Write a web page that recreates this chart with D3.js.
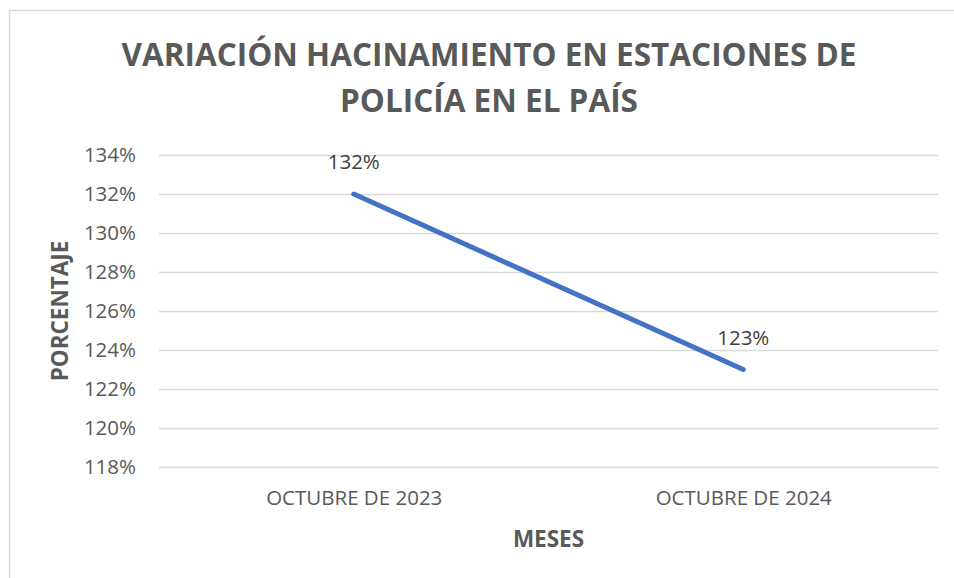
<!DOCTYPE html>
<html>
<head>
<meta charset="utf-8">
<script src="https://cdn.jsdelivr.net/npm/d3@7"></script>
<style>
  body { margin: 0; background: #fff; }
  text { font-family: "Open Sans", sans-serif; }
</style>
</head>
<body>
<div id="chart"></div>
<script>
var svgWidth = 954;
var svgHeight = 578;

// data
var months = ["OCTUBRE DE 2023", "OCTUBRE DE 2024"];
var values = [1.32, 1.23];
var yTicks = [1.18, 1.20, 1.22, 1.24, 1.26, 1.28, 1.30, 1.32, 1.34];
var titleLines = ["VARIACIÓN HACINAMIENTO EN ESTACIONES DE", "POLICÍA EN EL PAÍS"];

var margin = { top: 155, right: 16, bottom: 111, left: 159 };
var plotWidth = svgWidth - margin.left - margin.right;
var plotHeight = svgHeight - margin.top - margin.bottom;

var svg = d3.select("#chart")
    .append("svg")
    .attr("width", svgWidth)
    .attr("height", svgHeight);

// chart frame (runs off the right/bottom edge like the source)
svg.append("rect")
    .attr("x", 9.5)
    .attr("y", 10.5)
    .attr("width", 980)
    .attr("height", 600)
    .attr("fill", "none")
    .attr("stroke", "#d9d9d9")
    .attr("stroke-width", 1.5);

// title
svg.append("text")
    .attr("text-anchor", "middle")
    .attr("fill", "#595959")
    .style("font-weight", "bold")
    .style("font-size", "31.5px")
    .selectAll("tspan")
    .data(titleLines)
    .enter()
    .append("tspan")
    .attr("x", 489)
    .attr("y", (d, i) => 66 + i * 46)
    .text(d => d);

var plot = svg.append("g")
    .attr("transform", `translate(${margin.left},${margin.top})`);

var scX = d3.scalePoint()
    .domain(months)
    .range([0, plotWidth])
    .padding(0.5);

var scY = d3.scaleLinear()
    .domain([1.18, 1.34])
    .range([plotHeight, 0]);

// gridlines
plot.append("g")
    .call(d3.axisLeft(scY).tickValues(yTicks).tickSize(-plotWidth).tickFormat(""))
    .call(g => g.select(".domain").remove())
    .call(g => g.selectAll("line").attr("stroke", "#d9d9d9").attr("stroke-width", 1.5));

// y axis labels
plot.append("g")
    .call(d3.axisLeft(scY).tickValues(yTicks).tickSize(0).tickPadding(23).tickFormat(d3.format(".0%")))
    .call(g => g.select(".domain").remove())
    .call(g => g.selectAll("text")
        .attr("fill", "#595959")
        .style("font-size", "20.5px")
        .style("font-family", "'Open Sans', sans-serif"));

// x axis labels
plot.append("g")
    .attr("transform", `translate(0,${plotHeight})`)
    .call(d3.axisBottom(scX).tickSize(0).tickPadding(23))
    .call(g => g.select(".domain").remove())
    .call(g => g.selectAll("text")
        .attr("fill", "#595959")
        .style("font-size", "20.5px")
        .style("font-family", "'Open Sans', sans-serif"));

// line
var line = d3.line()
    .x((d, i) => scX(months[i]))
    .y(d => scY(d));

plot.append("path")
    .datum(values)
    .attr("d", line)
    .attr("fill", "none")
    .attr("stroke", "#4472c4")
    .attr("stroke-width", 5)
    .attr("stroke-linecap", "round");

// data labels
plot.selectAll(".lbl")
    .data(values)
    .enter()
    .append("text")
    .attr("class", "lbl")
    .attr("x", (d, i) => scX(months[i]))
    .attr("y", d => scY(d) - 25)
    .attr("text-anchor", "middle")
    .attr("fill", "#404040")
    .style("font-size", "20.5px")
    .text(d => d3.format(".0%")(d));

// axis titles
svg.append("text")
    .attr("x", margin.left + plotWidth / 2)
    .attr("y", 547)
    .attr("text-anchor", "middle")
    .attr("fill", "#595959")
    .style("font-weight", "bold")
    .style("font-size", "22.5px")
    .text("MESES");

svg.append("text")
    .attr("transform", "translate(68,311) rotate(-90)")
    .attr("text-anchor", "middle")
    .attr("fill", "#595959")
    .style("font-weight", "bold")
    .style("font-size", "22.5px")
    .text("PORCENTAJE");
</script>
</body>
</html>
